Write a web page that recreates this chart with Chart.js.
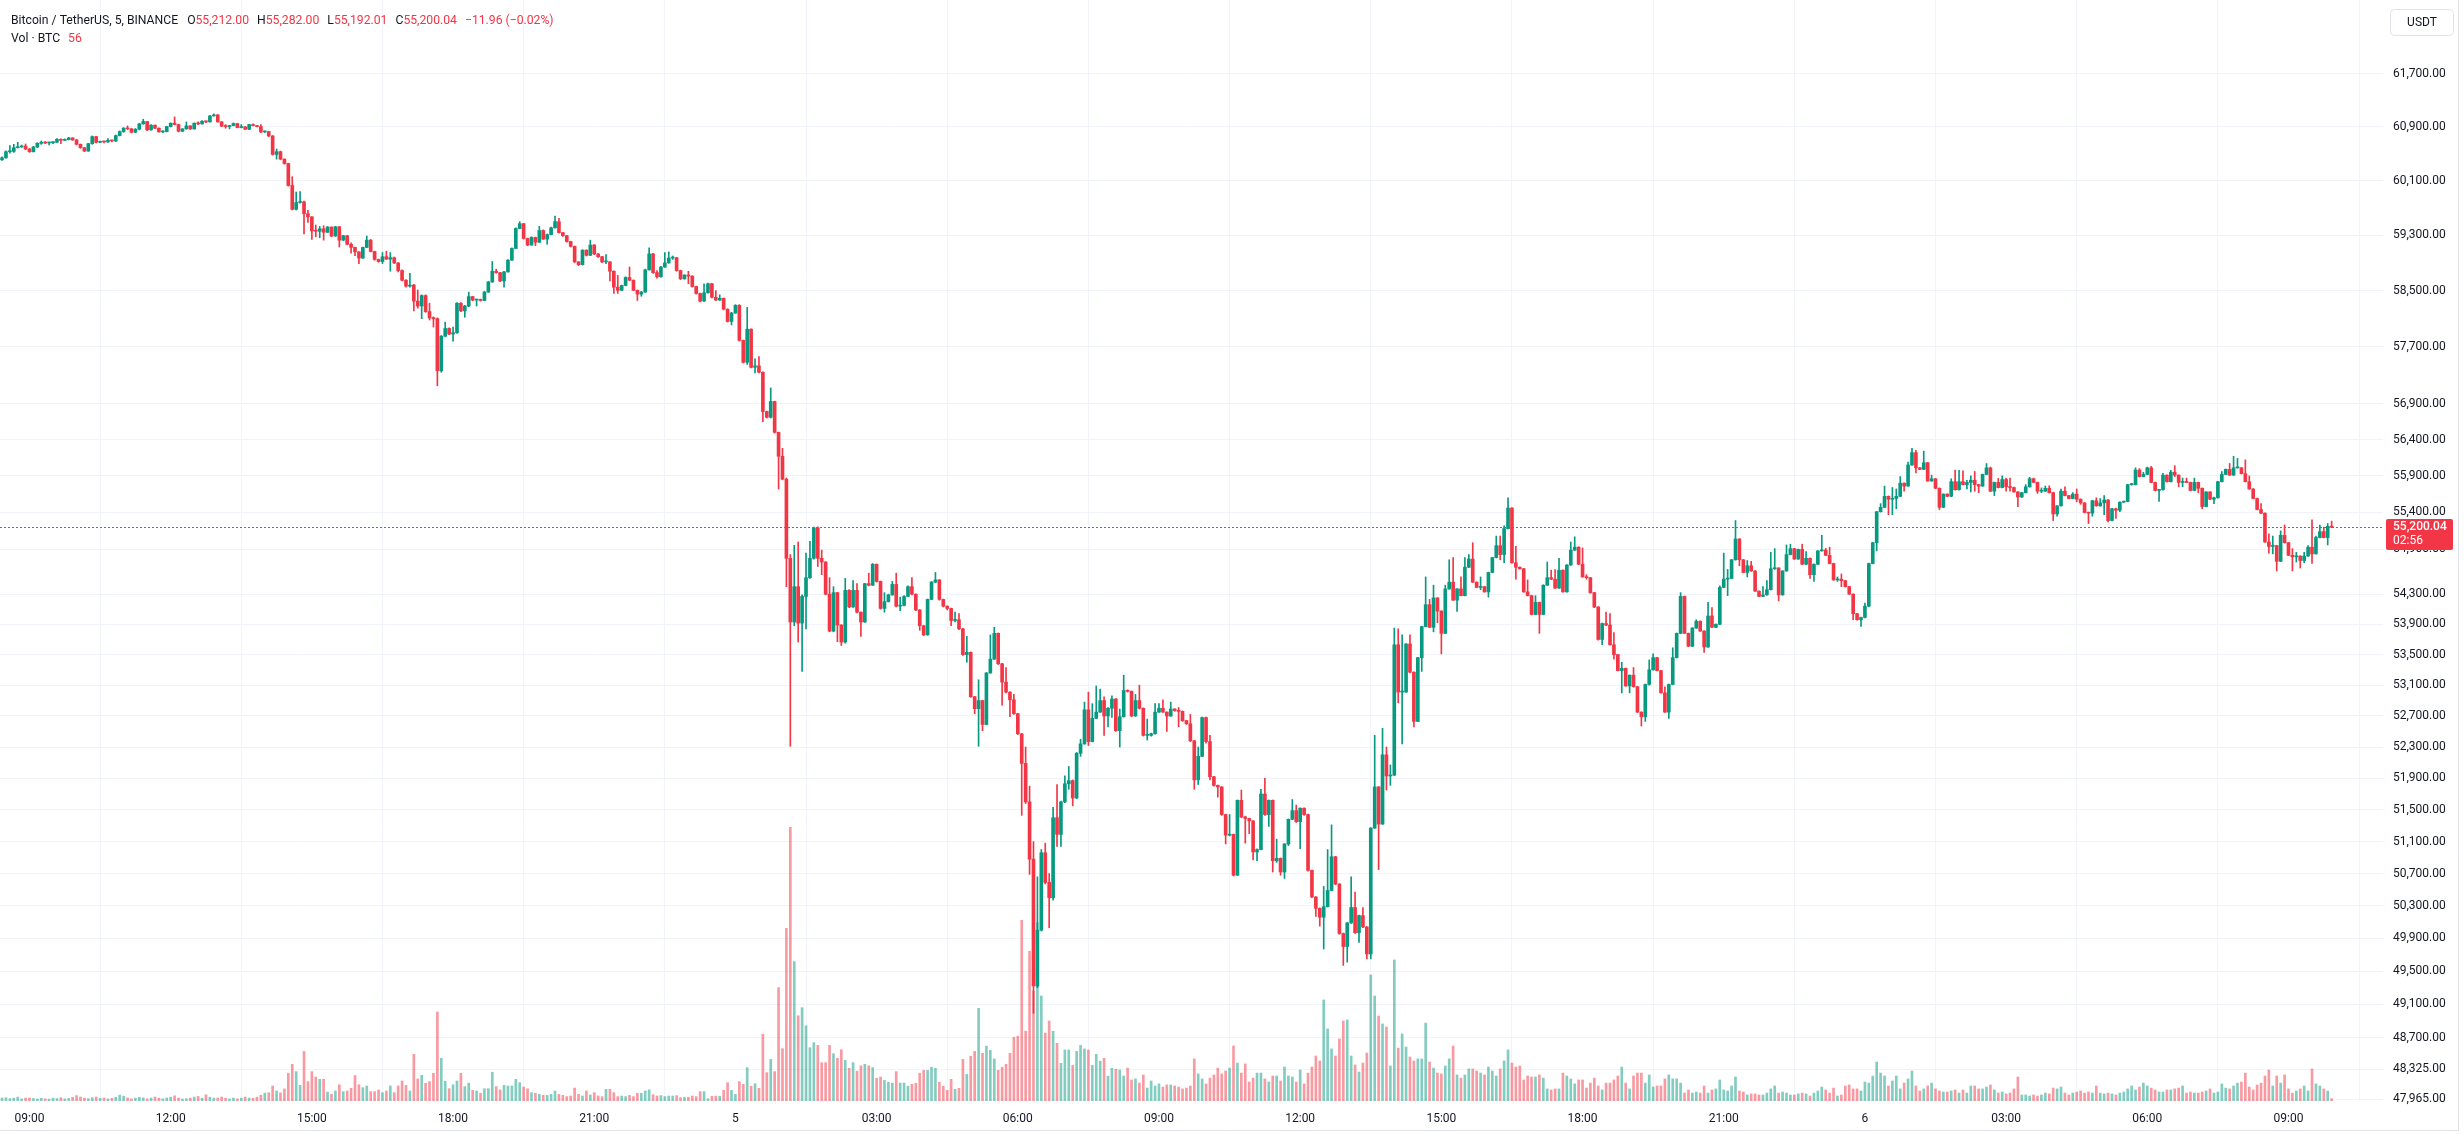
<!DOCTYPE html>
<html>
<head>
<meta charset="utf-8">
<script src="https://cdn.jsdelivr.net/npm/chart.js@4.4.1/dist/chart.umd.min.js"></script>
<style>
  html, body { margin: 0; padding: 0; background: #ffffff; }
  #wrap { width: 2464px; height: 1134px; position: relative; }
</style>
</head>
<body>
<div id="wrap"><canvas id="grafico" width="2464" height="1134"></canvas></div>
<script>
// BTCUSDT 5 min candles, first candle 08:25 (day 4), last candle 09:55 (day 6)
const firstTime = '08:25';
const firstDay = 4;
const firstOpen = 60410;

const closes = [
  60440, 60530, 60535, 60590, 60600, 60615, 60570,
  60530, 60600, 60655, 60670, 60660, 60665, 60670, 60715, 60700, 60710, 60735, 60705,
  60640, 60590, 60540, 60650, 60755, 60670, 60680, 60675, 60700, 60690, 60770, 60830,
  60880, 60870, 60820, 60865, 60945, 60980, 60855, 60925, 60880, 60825, 60830, 60905,
  60955, 60935, 60835, 60870, 60915, 60870, 60955, 60945, 60985, 60975, 61065, 61080,
  60975, 60910, 60905, 60920, 60950, 60890, 60900, 60865, 60935, 60920, 60905, 60825,
  60830, 60765, 60490, 60530, 60420, 60355, 60030, 59680, 59780, 59790, 59615, 59570,
  59365, 59360, 59395, 59345, 59420, 59290, 59425, 59230, 59295, 59170, 59125, 59060,
  58970, 59125, 59230, 59065, 58950, 58920, 58990, 58955, 58975, 58900, 58790, 58650,
  58565, 58580, 58350, 58280, 58430, 58200, 58110, 58100, 57360, 57850, 57960, 57880,
  57900, 58320, 58210, 58280, 58415, 58365, 58370, 58360, 58480, 58625, 58780, 58760,
  58640, 58770, 58940, 59110, 59400, 59470, 59255, 59160, 59270, 59200, 59370, 59245,
  59310, 59410, 59500, 59340, 59295, 59210, 59140, 58915, 58875, 59085, 59010, 59160,
  59030, 58990, 58915, 58915, 58780, 58550, 58505, 58575, 58690, 58650, 58505, 58450,
  58480, 58800, 59030, 58760, 58700, 58840, 58900, 58970, 58975, 58790, 58670, 58725,
  58710, 58560, 58460, 58350, 58470, 58600, 58405, 58365, 58390, 58235, 58060, 58180,
  58290, 57790, 57480, 57950, 57410, 57430, 57340, 56790, 56710, 56930, 56500, 56170,
  55855, 54780, 53930, 54400, 53915, 54270, 54520, 54780, 55190, 54780, 54730, 54300,
  53810, 54320, 53890, 53665, 54350, 54130, 54350, 54060, 53930, 54440, 54420, 54700,
  54470, 54110, 54200, 54290, 54430, 54140, 54150, 54270, 54400, 54300, 54090, 53880,
  53760, 54230, 54460, 54490, 54230, 54140, 54110, 53950, 53960, 53840, 53500, 53530,
  52950, 52795, 52900, 52590, 53260, 53440, 53780, 53380, 53140, 53010, 52910, 52730,
  52470, 52090, 51600, 50880, 49320, 50000, 50960, 50590, 50400, 51400, 51190, 51600,
  51830, 51870, 51650, 52220, 52340, 52780, 52370, 52670, 52750, 52900, 52700, 52800,
  52920, 52510, 52690, 53030, 53020, 52700, 52900, 52800, 52450, 52450, 52470, 52750,
  52800, 52750, 52700, 52790, 52770, 52760, 52640, 52600, 52380, 51880, 52180, 52680,
  52370, 51920, 51810, 51790, 51440, 51180, 51190, 50680, 51620, 51410, 51390, 51360,
  50970, 51000, 51700, 51440, 51620, 50860, 50890, 50720, 51070, 51380, 51490, 51350,
  51520, 51440, 50740, 50410, 50270, 50160, 50290, 50490, 50910, 50570, 49960, 49800,
  50090, 50280, 49970, 50180, 50040, 49710, 51270, 51790, 51320, 52200, 51930, 51940,
  53630, 53010, 53010, 53640, 53270, 52630, 53460, 53870, 54160, 53860, 54250, 54075,
  53780, 54370, 54460, 54220, 54370, 54280, 54660, 54770, 54460, 54390, 54400, 54330,
  54590, 54790, 54950, 54830, 55180, 55460, 54720, 54660, 54640, 54330, 54280, 54030,
  54190, 54030, 54420, 54520, 54500, 54380, 54620, 54330, 54690, 54890, 54930, 54700,
  54530, 54520, 54320, 54130, 53700, 53910, 53890, 53630, 53500, 53290, 53320, 53090,
  53230, 53080, 52750, 52690, 53110, 53300, 53460, 53290, 53000, 52750, 53110, 53460,
  53780, 54270, 53780, 53610, 53850, 53940, 53810, 53600, 54010, 53860, 53900, 54390,
  54500, 54510, 54760, 55040, 54760, 54590, 54680, 54610, 54340, 54270, 54290, 54360,
  54640, 54650, 54290, 54610, 54830, 54910, 54770, 54900, 54700, 54780, 54560, 54700,
  54880, 54890, 54820, 54710, 54490, 54500, 54480, 54400, 54300, 54040, 53960, 53990,
  54140, 54710, 54990, 55410, 55470, 55620, 55580, 55590, 55620, 55800, 55760, 56050,
  56220, 56010, 55990, 56080, 55830, 55860, 55730, 55470, 55650, 55620, 55820, 55710,
  55820, 55780, 55810, 55840, 55780, 55760, 55920, 56010, 55690, 55810, 55740, 55850,
  55750, 55740, 55680, 55610, 55670, 55750, 55860, 55810, 55690, 55690, 55730, 55670,
  55380, 55490, 55690, 55630, 55590, 55650, 55580, 55530, 55400, 55390, 55560, 55490,
  55530, 55570, 55290, 55450, 55430, 55540, 55550, 55780, 55780, 55980, 55890, 55920,
  56010, 55810, 55700, 55710, 55910, 55820, 55950, 55910, 55810, 55820, 55810, 55700,
  55810, 55730, 55480, 55680, 55580, 55600, 55820, 55920, 55990, 55910, 56010, 56010,
  55930, 55820, 55720, 55590, 55440, 55390, 55000, 54940, 54950, 54740, 55090, 54990,
  54820, 54800, 54810, 54750, 54810, 54930, 54840, 55060, 55140, 55060, 55212, 55200.04
];

const highs = [
  60455, 60545, 60620, 60640, 60670, 60630, 60645,
  60580, 60610, 60665, 60690, 60680, 60675, 60680, 60725, 60720, 60720, 60745, 60740,
  60715, 60645, 60595, 60655, 60765, 60760, 60690, 60690, 60725, 60705, 60780, 60840,
  60890, 60915, 60880, 60875, 60955, 61015, 60985, 60935, 60930, 60885, 60840, 60910,
  60960, 61050, 60940, 60875, 60975, 60920, 60960, 60975, 60995, 60990, 61070, 61095,
  61085, 60980, 60935, 60925, 60960, 60955, 60935, 60905, 60940, 60945, 60925, 60935,
  60840, 60835, 60770, 60570, 60540, 60425, 60360, 60160, 59935, 59940, 59800, 59665,
  59575, 59450, 59430, 59440, 59430, 59425, 59430, 59430, 59300, 59300, 59190, 59130,
  59065, 59130, 59290, 59240, 59070, 58955, 59050, 59070, 59050, 58985, 58905, 58800,
  58660, 58750, 58590, 58510, 58440, 58440, 58320, 58125, 58110, 57860, 58050, 57970,
  57980, 58330, 58330, 58290, 58480, 58420, 58380, 58380, 58490, 58635, 58920, 58810,
  58765, 58780, 58950, 59120, 59410, 59500, 59475, 59260, 59280, 59275, 59430, 59380,
  59320, 59420, 59580, 59550, 59345, 59300, 59215, 59145, 58920, 59090, 59090, 59230,
  59165, 59035, 58995, 59020, 58920, 58785, 58720, 58580, 58700, 58840, 58655, 58510,
  58490, 58810, 59120, 59040, 58790, 58850, 59050, 59060, 59000, 58980, 58795, 58730,
  58780, 58715, 58565, 58465, 58600, 58610, 58605, 58500, 58440, 58395, 58240, 58190,
  58300, 58300, 57795, 58260, 57955, 57530, 57560, 57345, 56795, 57120, 56935, 56505,
  56280, 55870, 54830, 54955, 55000, 54290, 54850, 55010, 55200, 55205, 54890, 54735,
  54520, 54400, 54325, 53895, 54510, 54360, 54480, 54440, 54065, 54445, 54580, 54710,
  54705, 54475, 54320, 54300, 54470, 54580, 54260, 54280, 54410, 54520, 54305, 54095,
  53885, 54235, 54470, 54590, 54495, 54235, 54145, 54115, 54060, 54040, 53845, 53740,
  53535, 52955, 53170, 52905, 53265, 53760, 53860, 53785, 53385, 53330, 53015, 52980,
  52735, 52475, 52300, 51800, 51100, 50660, 51000, 51080, 50700, 51530, 51820, 51610,
  51930, 52050, 51880, 52230, 52400, 52880, 53010, 52860, 53090, 53050, 52950, 52810,
  52960, 52925, 52790, 53230, 53040, 53025, 52980, 53100, 52805, 52660, 52480, 52860,
  52860, 52910, 52755, 52880, 52795, 52810, 52765, 52645, 52720, 52385, 52300, 52685,
  52685, 52450, 51925, 51815, 51795, 51445, 51440, 51195, 51625, 51750, 51420, 51395,
  51365, 51010, 51760, 51900, 51625, 51625, 51130, 50895, 51075, 51385, 51630, 51560,
  51525, 51525, 51445, 50745, 50415, 50275, 50540, 51000, 51310, 50915, 50575, 49965,
  50095, 50660, 50470, 50185, 50280, 50045, 51275, 52450, 51795, 52540, 52300, 52070,
  53850, 53840, 53760, 53645, 53760, 53275, 53465, 53875, 54530, 54230, 54420, 54255,
  54080, 54420, 54760, 54790, 54375, 54530, 54790, 54830, 54990, 54465, 54530, 54405,
  54595, 54795, 55080, 55080, 55220, 55600, 55465, 54940, 54665, 54645, 54490, 54285,
  54280, 54195, 54425, 54730, 54620, 54630, 54780, 54625, 54695, 55000, 55070, 54935,
  54920, 54560, 54525, 54325, 54135, 53915, 54060, 54040, 53790, 53505, 53400, 53325,
  53235, 53330, 53085, 52755, 53115, 53430, 53510, 53465, 53295, 53080, 53115, 53590,
  53785, 54320, 54275, 53785, 53855, 53960, 53945, 53815, 54190, 54120, 53905, 54410,
  54850, 54630, 54765, 55290, 55045, 54765, 54750, 54740, 54615, 54345, 54400, 54480,
  54860, 54910, 54655, 54615, 54960, 54970, 54915, 54905, 54970, 54870, 54785, 54705,
  54885, 55090, 54915, 54930, 54715, 54530, 54570, 54485, 54405, 54305, 54045, 53995,
  54180, 54715, 54995, 55415, 55520, 55760, 55625, 55740, 55720, 55890, 55805, 56090,
  56280, 56250, 56015, 56240, 56085, 55910, 55865, 55735, 55655, 55655, 55860, 55980,
  55975, 55970, 55840, 55900, 55960, 55785, 55925, 56070, 56020, 55815, 55865, 55900,
  55870, 55870, 55745, 55685, 55675, 55780, 55880, 55870, 55815, 55735, 55760, 55765,
  55675, 55495, 55720, 55750, 55635, 55670, 55720, 55585, 55535, 55405, 55565, 55600,
  55590, 55630, 55575, 55455, 55460, 55545, 55555, 55785, 55795, 56010, 56000, 55950,
  56020, 56030, 55815, 55715, 55935, 55915, 55975, 56040, 55915, 55870, 55870, 55815,
  55870, 55815, 55735, 55685, 55685, 55610, 55825, 55960, 55995, 56070, 56170, 56140,
  56015, 56120, 55900, 55725, 55595, 55520, 55395, 55110, 55080, 54955, 55150, 55230,
  54995, 54910, 54860, 54815, 54860, 54950, 55300, 55080, 55230, 55200, 55250, 55282
];

const lows = [
  60400, 60430, 60510, 60520, 60585, 60595, 60560,
  60520, 60525, 60590, 60640, 60650, 60630, 60650, 60665, 60650, 60695, 60705, 60700,
  60630, 60580, 60530, 60535, 60640, 60660, 60665, 60660, 60670, 60675, 60680, 60765,
  60820, 60860, 60810, 60815, 60855, 60940, 60845, 60850, 60875, 60820, 60815, 60825,
  60900, 60930, 60825, 60830, 60865, 60860, 60865, 60935, 60940, 60965, 60970, 61060,
  60970, 60905, 60880, 60870, 60915, 60885, 60885, 60860, 60860, 60915, 60900, 60815,
  60815, 60755, 60480, 60420, 60410, 60345, 60020, 59670, 59670, 59770, 59320, 59490,
  59240, 59280, 59265, 59230, 59340, 59280, 59285, 59130, 59225, 59160, 59040, 59005,
  58890, 58965, 59120, 59060, 58940, 58910, 58890, 58950, 58780, 58890, 58770, 58640,
  58550, 58550, 58210, 58250, 58100, 58190, 58080, 57980, 57150, 57340, 57840, 57870,
  57780, 57890, 58200, 58120, 58270, 58355, 58280, 58350, 58355, 58475, 58620, 58750,
  58630, 58550, 58765, 58935, 59105, 59395, 59245, 59150, 59155, 59150, 59195, 59240,
  59170, 59305, 59405, 59330, 59285, 59200, 59130, 58905, 58860, 58870, 59000, 59005,
  59020, 58980, 58905, 58890, 58640, 58460, 58460, 58500, 58570, 58645, 58500, 58360,
  58420, 58475, 58795, 58750, 58680, 58695, 58835, 58895, 58950, 58780, 58660, 58665,
  58600, 58550, 58450, 58340, 58345, 58465, 58395, 58360, 58360, 58225, 58050, 58010,
  58175, 57780, 57470, 57450, 57400, 57330, 57330, 56650, 56700, 56700, 56490, 55720,
  55845, 54400, 52310, 53880, 53665, 53280, 53840, 54510, 54770, 54670, 54560, 54290,
  53800, 53800, 53670, 53620, 53650, 54120, 54125, 54050, 53740, 53925, 54410, 54415,
  54460, 54100, 54060, 54195, 54285, 54130, 54080, 54145, 54265, 54290, 54080, 53820,
  53750, 53755, 54225, 54455, 54220, 54130, 54090, 53880, 53930, 53830, 53490, 53400,
  52940, 52730, 52310, 52510, 52585, 53255, 53435, 53370, 52840, 53000, 52690, 52720,
  52460, 51430, 51580, 50690, 48990, 49300, 49990, 50570, 50030, 50370, 51040, 51040,
  51590, 51760, 51550, 51640, 52180, 52335, 52320, 52365, 52665, 52745, 52450, 52560,
  52680, 52500, 52300, 52685, 53010, 52690, 52695, 52790, 52440, 52390, 52440, 52465,
  52745, 52745, 52500, 52695, 52760, 52560, 52630, 52590, 52370, 51760, 51820, 52175,
  52350, 51880, 51800, 51660, 51430, 51070, 51170, 50670, 50675, 51400, 51080, 51200,
  50870, 50860, 50995, 51430, 51290, 50720, 50840, 50680, 50640, 51050, 51375, 51340,
  51010, 51430, 50730, 50400, 50170, 50050, 49770, 50285, 50485, 50560, 49950, 49570,
  49610, 50085, 49960, 49850, 50030, 49650, 49650, 51265, 50750, 51315, 51750, 51810,
  51935, 52870, 52340, 53005, 53260, 52560, 52625, 53280, 53865, 53855, 53800, 53920,
  53510, 53775, 54365, 54215, 54070, 54275, 54275, 54655, 54455, 54385, 54360, 54325,
  54260, 54585, 54785, 54760, 54720, 55175, 54715, 54500, 54635, 54325, 54275, 54025,
  54025, 53780, 54025, 54415, 54495, 54375, 54375, 54325, 54325, 54685, 54885, 54695,
  54525, 54500, 54310, 54120, 53690, 53630, 53880, 53625, 53440, 53285, 53000, 53085,
  53000, 53075, 52745, 52570, 52630, 53100, 53295, 53285, 52995, 52745, 52670, 53105,
  53455, 53775, 53775, 53605, 53605, 53845, 53805, 53530, 53595, 53855, 53855, 53895,
  54385, 54280, 54505, 54755, 54680, 54585, 54530, 54605, 54335, 54265, 54265, 54285,
  54355, 54630, 54210, 54285, 54605, 54825, 54765, 54765, 54695, 54695, 54510, 54470,
  54695, 54875, 54815, 54705, 54485, 54470, 54400, 54395, 54295, 53960, 53955, 53870,
  53985, 54135, 54705, 54880, 55405, 55465, 55370, 55370, 55450, 55615, 55690, 55755,
  56045, 55940, 55985, 55985, 55825, 55825, 55725, 55440, 55465, 55615, 55615, 55705,
  55705, 55775, 55720, 55680, 55690, 55670, 55755, 55915, 55685, 55630, 55735, 55735,
  55690, 55690, 55675, 55480, 55605, 55665, 55745, 55805, 55660, 55670, 55685, 55665,
  55290, 55350, 55485, 55625, 55585, 55585, 55545, 55510, 55395, 55250, 55350, 55485,
  55485, 55370, 55270, 55285, 55320, 55410, 55535, 55545, 55770, 55775, 55885, 55885,
  55915, 55805, 55695, 55550, 55705, 55815, 55815, 55890, 55750, 55750, 55805, 55695,
  55695, 55670, 55450, 55475, 55575, 55520, 55595, 55815, 55915, 55905, 55905, 56005,
  55925, 55815, 55715, 55585, 55435, 55385, 54995, 54850, 54840, 54610, 54735, 54985,
  54815, 54610, 54730, 54650, 54720, 54805, 54710, 54835, 55055, 55055, 54960, 55192.01
];

// volume in BTC
const volumes = [
  72, 80, 55, 68, 92, 50, 70,
  75, 60, 48, 66, 52, 45, 70, 58, 78, 50, 62, 88,
  130, 96, 70, 55, 80, 95, 66, 72, 50, 65, 90, 140,
  115, 72, 50, 68, 90, 75, 52, 70, 95, 68, 50, 72,
  92, 125, 70, 48, 55, 70, 95, 110, 68, 150, 92, 70,
  72, 95, 66, 50, 70, 52, 68, 95, 70, 65, 92, 140,
  190, 200, 360, 240, 195, 290, 665, 880, 705, 375, 1190, 465,
  705, 575, 520, 520, 215, 160, 240, 390, 225, 240, 305, 610,
  390, 320, 360, 225, 225, 265, 200, 240, 360, 200, 360, 480,
  375, 240, 1120, 530, 615, 425, 465, 665, 2135, 1025, 475, 295,
  390, 480, 665, 345, 430, 255, 240, 185, 295, 295, 690, 345,
  265, 375, 360, 360, 520, 440, 335, 295, 200, 185, 160, 135,
  135, 160, 240, 160, 135, 105, 120, 310, 160, 120, 240, 145,
  200, 120, 105, 280, 280, 200, 105, 120, 105, 135, 105, 185,
  185, 240, 270, 150, 120, 130, 105, 120, 120, 130, 80, 90,
  90, 120, 105, 225, 225, 55, 115, 115, 115, 255, 440, 255,
  160, 465, 400, 800, 355, 415, 305, 1600, 680, 1000, 705, 2720,
  1255, 4145, 6570, 3345, 2045, 2240, 1805, 1280, 1400, 1335, 920, 920,
  1335, 1135, 1025, 1230, 975, 785, 920, 715, 845, 880, 845, 800,
  545, 575, 495, 450, 430, 705, 430, 430, 355, 400, 425, 665,
  735, 735, 810, 785, 450, 355, 255, 520, 280, 305, 1000, 640,
  1075, 1190, 2225, 1145, 1315, 1215, 1010, 735, 810, 880, 1145, 1530,
  1555, 4335, 1675, 3595, 2640, 4280, 2520, 1630, 1920, 1675, 1385, 905,
  1225, 1225, 855, 1190, 1335, 1250, 1225, 855, 1120, 955, 1025, 595,
  785, 760, 745, 600, 790, 505, 530, 430, 625, 310, 480, 360,
  410, 335, 385, 385, 360, 335, 290, 310, 360, 1010, 650, 530,
  410, 550, 625, 790, 650, 720, 790, 1320, 910, 670, 890, 455,
  550, 670, 670, 530, 455, 600, 600, 480, 815, 600, 575, 455,
  745, 410, 670, 815, 1080, 960, 2425, 1730, 1250, 1080, 1490, 1920,
  1945, 1080, 865, 695, 910, 1150, 3025, 2520, 2040, 1850, 1775, 840,
  3385, 1270, 1610, 1295, 1055, 960, 1010, 1010, 1870, 935, 790, 670,
  650, 840, 1010, 1320, 625, 550, 625, 770, 770, 720, 670, 625,
  815, 720, 600, 770, 960, 1225, 910, 815, 840, 505, 600, 575,
  575, 625, 550, 290, 265, 290, 290, 670, 600, 530, 410, 505,
  505, 310, 430, 550, 360, 265, 430, 430, 505, 600, 815, 430,
  290, 600, 670, 670, 430, 625, 335, 360, 360, 530, 625, 530,
  530, 430, 190, 265, 190, 215, 190, 360, 190, 265, 290, 505,
  265, 240, 360, 575, 240, 215, 145, 170, 170, 145, 145, 190,
  290, 360, 190, 215, 190, 145, 145, 170, 190, 170, 120, 190,
  240, 335, 265, 190, 310, 120, 145, 360, 385, 290, 290, 240,
  455, 430, 600, 935, 670, 600, 360, 480, 600, 290, 430, 530,
  720, 360, 240, 290, 360, 430, 290, 240, 215, 215, 240, 265,
  190, 265, 190, 360, 360, 290, 290, 335, 385, 265, 190, 215,
  170, 190, 290, 575, 145, 145, 120, 145, 120, 145, 190, 170,
  310, 290, 335, 190, 145, 190, 215, 240, 190, 215, 190, 360,
  190, 170, 190, 170, 145, 190, 215, 290, 360, 265, 335, 430,
  360, 310, 265, 215, 215, 265, 265, 290, 310, 360, 190, 215,
  190, 190, 215, 240, 290, 190, 215, 410, 310, 290, 360, 430,
  455, 670, 335, 265, 385, 430, 600, 745, 360, 600, 430, 625,
  290, 190, 240, 290, 360, 240, 770, 410, 360, 290, 240, 56
];

const xTickLabels = ['09:00', '12:00', '15:00', '18:00', '21:00', '5', '03:00', '06:00', '09:00',
                     '12:00', '15:00', '18:00', '21:00', '6', '03:00', '06:00', '09:00'];

const priceTicks = [61700, 60900, 60100, 59300, 58500, 57700, 56900, 56400, 55900, 55400, 54900,
                    54300, 53900, 53500, 53100, 52700, 52300, 51900, 51500, 51100, 50700, 50300,
                    49900, 49500, 49100, 48700, 48325, 47965];

const countdown = '02:56';

const corAlta = '#089981';
const corBaixa = '#F23645';
const corAltaVol = 'rgba(8, 153, 129, 0.5)';
const corBaixaVol = 'rgba(242, 54, 69, 0.5)';
const corTexto = '#131722';
const corGrade = '#f0f3fa';
const fonte = 'Roboto, "Noto Sans", sans-serif';

// opens follow the previous close
const opens = [firstOpen].concat(closes.slice(0, -1));

// candle times -> positions of the 3 hour ticks
const inicioMin = parseInt(firstTime.slice(0, 2)) * 60 + parseInt(firstTime.slice(3));
const tickIdx = [];
closes.forEach(function (c, i) {
    const m = (inicioMin + 5 * i) % 1440;
    if (m % 180 === 0) tickIdx.push(i);
});

const corpos = [], pavios = [], vols = [], cores = [], coresVol = [];
closes.forEach(function (c, i) {
    const sobe = c >= opens[i];
    corpos.push({ x: i, y: [opens[i], c] });
    pavios.push({ x: i, y: [lows[i], highs[i]] });
    vols.push({ x: i, y: volumes[i] });
    cores.push(sobe ? corAlta : corBaixa);
    coresVol.push(sobe ? corAltaVol : corBaixaVol);
});

function fmt(v) {
    return v.toLocaleString('en-US', { minimumFractionDigits: 2, maximumFractionDigits: 2 });
}

const ultimo = closes.length - 1;

// header, last price line and label, currency box
const extras = {
    id: 'extras',
    afterDatasetsDraw: function (chart) {
        const ctx = chart.ctx;
        const area = chart.chartArea;
        const py = Math.round(chart.scales.y.getPixelForValue(closes[ultimo])) + 0.5;
        ctx.save();
        ctx.strokeStyle = corBaixa;
        ctx.lineWidth = 1;
        ctx.setLineDash([2, 2]);
        ctx.beginPath();
        ctx.moveTo(area.left, py);
        ctx.lineTo(area.right, py);
        ctx.stroke();
        ctx.restore();
    },
    afterDraw: function (chart) {
        const ctx = chart.ctx;
        const area = chart.chartArea;
        ctx.save();

        // header
        ctx.font = '12.2px ' + fonte;
        ctx.textBaseline = 'middle';
        let x = 11;
        const y1 = 21, y2 = 39;
        function escreve(txt, cor, gap) {
            ctx.fillStyle = cor;
            ctx.fillText(txt, x, y1);
            x += ctx.measureText(txt).width + gap;
        }
        const corUlt = closes[ultimo] >= opens[ultimo] ? corAlta : corBaixa;
        const dif = closes[ultimo] - opens[ultimo];
        escreve('Bitcoin / TetherUS, 5, BINANCE', corTexto, 9);
        escreve('O', corTexto, 0); escreve(fmt(opens[ultimo]), corUlt, 8);
        escreve('H', corTexto, 0); escreve(fmt(highs[ultimo]), corUlt, 8);
        escreve('L', corTexto, 0); escreve(fmt(lows[ultimo]), corUlt, 8);
        escreve('C', corTexto, 0); escreve(fmt(closes[ultimo]), corUlt, 8);
        escreve((dif < 0 ? '\u2212' : '+') + fmt(Math.abs(dif)) + ' (' + (dif < 0 ? '\u2212' : '+') +
            (Math.abs(dif) / opens[ultimo] * 100).toFixed(2) + '%)', corUlt, 0);

        ctx.fillStyle = corTexto;
        ctx.fillText('Vol \u00b7 BTC', 11, y2);
        const wv = ctx.measureText('Vol \u00b7 BTC').width;
        ctx.fillStyle = corUlt;
        ctx.fillText(String(volumes[ultimo]), 11 + wv + 8, y2);

        // last price label
        const py = Math.round(chart.scales.y.getPixelForValue(closes[ultimo]));
        ctx.fillStyle = corUlt;
        ctx.beginPath();
        ctx.roundRect(area.right + 3, py - 8, 67, 31, 2);
        ctx.fill();
        ctx.fillStyle = '#ffffff';
        ctx.font = '500 12px ' + fonte;
        ctx.textBaseline = 'middle';
        ctx.fillText(fmt(closes[ultimo]), area.right + 10, py);
        ctx.font = '12px ' + fonte;
        ctx.fillText(countdown, area.right + 10, py + 14);

        // currency box
        ctx.strokeStyle = '#e0e3eb';
        ctx.lineWidth = 1;
        ctx.beginPath();
        ctx.roundRect(2390.5, 9.5, 63, 26, 4);
        ctx.stroke();
        ctx.fillStyle = corTexto;
        ctx.textAlign = 'center';
        ctx.fillText('USDT', 2422, 23);

        // frame
        ctx.strokeStyle = '#e0e3eb';
        ctx.beginPath();
        ctx.moveTo(2458.5, 0);
        ctx.lineTo(2458.5, 1131);
        ctx.moveTo(0, 1130.5);
        ctx.lineTo(2459, 1130.5);
        ctx.stroke();
        ctx.restore();
    }
};

const contexto = document.getElementById('grafico').getContext('2d');

window.meuGrafico = new Chart(contexto, {
    type: 'bar',
    data: {
        datasets: [
            {
                label: 'Volume',
                data: vols,
                yAxisID: 'yv',
                backgroundColor: coresVol,
                barThickness: 2,
                grouped: false,
                order: 3
            },
            {
                label: 'Pavio',
                data: pavios,
                yAxisID: 'y',
                backgroundColor: cores,
                barThickness: 1,
                grouped: false,
                order: 2
            },
            {
                label: 'Corpo',
                data: corpos,
                yAxisID: 'y',
                backgroundColor: cores,
                barThickness: 3,
                minBarLength: 1,
                grouped: false,
                order: 1
            }
        ]
    },
    options: {
        responsive: false,
        animation: false,
        devicePixelRatio: 1,
        layout: { padding: 0 },
        plugins: {
            legend: { display: false },
            tooltip: { enabled: false }
        },
        scales: {
            x: {
                type: 'linear',
                min: -0.52,
                max: 607.1,
                offset: false,
                border: { display: false },
                grid: { color: corGrade, drawTicks: false },
                ticks: {
                    color: corTexto,
                    font: { family: fonte, size: 12 },
                    padding: 11,
                    autoSkip: false,
                    maxRotation: 0,
                    callback: function (v, i) { return xTickLabels[i]; }
                },
                afterBuildTicks: function (s) { s.ticks = tickIdx.map(function (v) { return { value: v }; }); },
                afterFit: function (s) { s.height = 33; s.paddingLeft = 0; s.paddingRight = 0; }
            },
            y: {
                type: 'logarithmic',
                position: 'right',
                min: 47947,
                max: 62827,
                border: { display: false },
                grid: { color: corGrade, drawTicks: false },
                ticks: {
                    color: corTexto,
                    font: { family: fonte, size: 12 },
                    padding: 10,
                    autoSkip: false,
                    callback: function (v) { return fmt(v); }
                },
                afterBuildTicks: function (s) { s.ticks = priceTicks.map(function (v) { return { value: v }; }); },
                afterFit: function (s) { s.width = 81; s.paddingTop = 0; s.paddingBottom = 0; }
            },
            yv: {
                type: 'linear',
                display: false,
                min: 0,
                max: 26424
            }
        }
    },
    plugins: [extras]
});
</script>
</body>
</html>
